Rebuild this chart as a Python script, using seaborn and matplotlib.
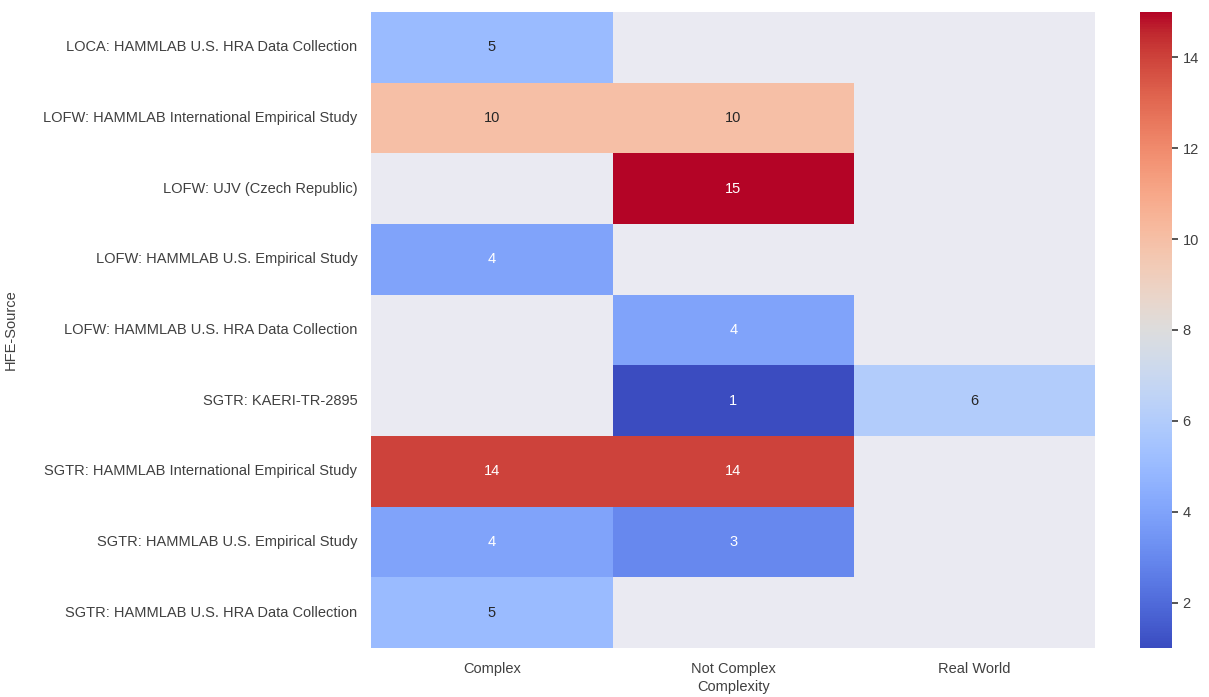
import numpy as np
import pandas as pd
import matplotlib
matplotlib.use("Agg")
import matplotlib.pyplot as plt
import seaborn as sns

sources = [
    "LOCA: HAMMLAB U.S. HRA Data Collection",
    "LOFW: HAMMLAB International Empirical Study",
    "LOFW: UJV (Czech Republic)",
    "LOFW: HAMMLAB U.S. Empirical Study",
    "LOFW: HAMMLAB U.S. HRA Data Collection",
    "SGTR: KAERI-TR-2895",
    "SGTR: HAMMLAB International Empirical Study",
    "SGTR: HAMMLAB U.S. Empirical Study",
    "SGTR: HAMMLAB U.S. HRA Data Collection",
]
complexity = ["Complex", "Not Complex", "Real World"]

complex_counts = [5, 10, np.nan, 4, np.nan, np.nan, 14, 4, 5]
not_complex_counts = [np.nan, 10, 15, np.nan, 4, 1, 14, 3, np.nan]
real_world_counts = [np.nan, np.nan, np.nan, np.nan, np.nan, 6, np.nan, np.nan, np.nan]

table = pd.DataFrame(
    {"Complex": complex_counts, "Not Complex": not_complex_counts, "Real World": real_world_counts},
    index=pd.Index(sources, name="HFE-Source"),
)[complexity]
table.columns.name = "Complexity"

sns.set_theme(style="darkgrid")
plt.rcParams["font.family"] = ["Liberation Sans", "DejaVu Sans"]
text_color = "0.25"

fig = plt.figure(figsize=(12.09, 6.97), dpi=100)
ax = fig.add_axes([0.307, 0.0703, 0.599, 0.9125])
cax = fig.add_axes([0.943, 0.0703, 0.0265, 0.9125])

sns.heatmap(table, cmap="coolwarm", annot=True, fmt=".0f", ax=ax, cbar_ax=cax,
            annot_kws={"fontsize": 10.5})
ax.grid(False)
ax.tick_params(axis="y", labelsize=10.5, length=0, pad=10, labelcolor=text_color)
ax.tick_params(axis="x", labelsize=10.5, length=0, pad=10, labelcolor=text_color)
ax.set_yticklabels(ax.get_yticklabels(), rotation=0)
ax.set_xlabel("Complexity", fontsize=10.5, labelpad=3, color=text_color)
ax.set_ylabel("HFE-Source", fontsize=10.5, color=text_color)
ax.yaxis.set_label_coords(-0.488, 0.5)
cax.tick_params(labelsize=10.5, labelcolor=text_color, color=text_color, length=4)
cax.grid(False)

fig.savefig("out.png", dpi=100)
